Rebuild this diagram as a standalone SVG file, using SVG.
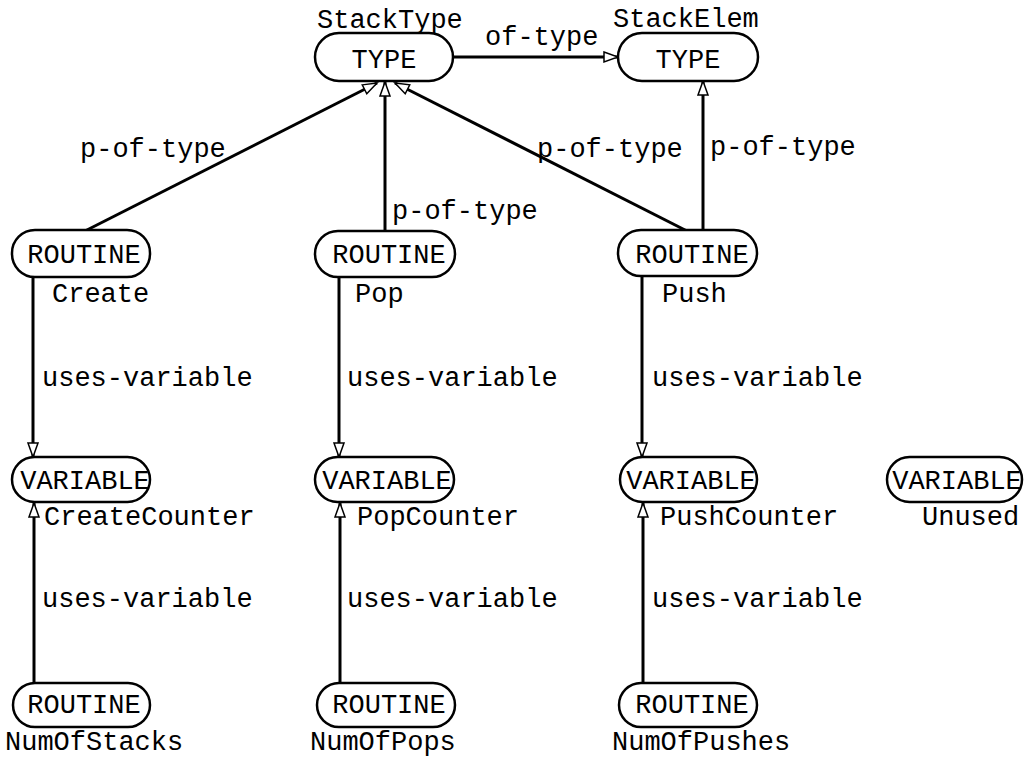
<svg xmlns="http://www.w3.org/2000/svg" width="1032" height="759" viewBox="0 0 1032 759">
<style>
text{font-family:"Liberation Mono","DejaVu Sans Mono",monospace;font-size:27px;fill:#000}
.n{fill:#fff;stroke:#000;stroke-width:2.5}
.e{stroke:#000;stroke-width:3;fill:none;marker-end:url(#ah)}
</style>
<defs>
<marker id="ah" markerUnits="userSpaceOnUse" markerWidth="18" markerHeight="14" viewBox="0 0 18 14" refX="16" refY="7" orient="auto">
<path d="M2,2 L16,7 L2,12 Z" fill="#fff" stroke="#000" stroke-width="1.5"/>
</marker>
</defs>
<rect width="1032" height="759" fill="#fff"/>
<g id="connectors">
<line class="e" x1="453" y1="57" x2="618" y2="57"/>
<line class="e" x1="85" y1="231" x2="377" y2="83"/>
<line class="e" x1="385" y1="231" x2="385" y2="82"/>
<line class="e" x1="687" y1="231" x2="395" y2="83"/>
<line class="e" x1="703" y1="230" x2="703" y2="81"/>
<line class="e" x1="33" y1="277" x2="33" y2="457"/>
<line class="e" x1="339" y1="277" x2="339" y2="457"/>
<line class="e" x1="642" y1="277" x2="642" y2="457"/>
<line class="e" x1="34" y1="683" x2="34" y2="503"/>
<line class="e" x1="340" y1="683" x2="340" y2="503"/>
<line class="e" x1="643" y1="683" x2="643" y2="503"/>
<text x="485" y="45">of-type</text>
<text x="80" y="157">p-of-type</text>
<text x="392" y="219">p-of-type</text>
<text x="537" y="157">p-of-type</text>
<text x="710" y="155">p-of-type</text>
<text x="42" y="386">uses-variable</text>
<text x="347" y="386">uses-variable</text>
<text x="652" y="386">uses-variable</text>
<text x="42" y="607">uses-variable</text>
<text x="347" y="607">uses-variable</text>
<text x="652" y="607">uses-variable</text>
</g>
<g id="StackType">
<rect class="n" x="315" y="33" width="138" height="48" rx="24"/>
<text x="384" y="68" text-anchor="middle">TYPE</text>
<text x="317" y="28">StackType</text>
</g>
<g id="StackElem">
<rect class="n" x="618" y="33" width="140" height="48" rx="24"/>
<text x="688" y="68" text-anchor="middle">TYPE</text>
<text x="613" y="27">StackElem</text>
</g>
<g id="Create">
<rect class="n" x="12" y="230" width="138" height="47" rx="23"/>
<text x="84" y="263" text-anchor="middle">ROUTINE</text>
<text x="52" y="302">Create</text>
</g>
<g id="Pop">
<rect class="n" x="315" y="231" width="140" height="46" rx="23"/>
<text x="389" y="263" text-anchor="middle">ROUTINE</text>
<text x="355" y="302">Pop</text>
</g>
<g id="Push">
<rect class="n" x="618" y="230" width="139" height="46" rx="23"/>
<text x="692" y="263" text-anchor="middle">ROUTINE</text>
<text x="662" y="302">Push</text>
</g>
<g id="CreateCounter">
<rect class="n" x="12" y="457" width="138" height="45" rx="22.5"/>
<text x="85" y="489" text-anchor="middle">VARIABLE</text>
<text x="44" y="525">CreateCounter</text>
</g>
<g id="PopCounter">
<rect class="n" x="315" y="457" width="139" height="45" rx="22.5"/>
<text x="387" y="489" text-anchor="middle">VARIABLE</text>
<text x="357" y="525">PopCounter</text>
</g>
<g id="PushCounter">
<rect class="n" x="620" y="457" width="137" height="45" rx="22.5"/>
<text x="691" y="489" text-anchor="middle">VARIABLE</text>
<text x="660" y="525">PushCounter</text>
</g>
<g id="Unused">
<rect class="n" x="887" y="457" width="135" height="45" rx="22.5"/>
<text x="957" y="489" text-anchor="middle">VARIABLE</text>
<text x="922" y="525">Unused</text>
</g>
<g id="NumOfStacks">
<rect class="n" x="13" y="683" width="137" height="44" rx="22"/>
<text x="84" y="713" text-anchor="middle">ROUTINE</text>
<text x="5" y="750">NumOfStacks</text>
</g>
<g id="NumOfPops">
<rect class="n" x="317" y="683" width="138" height="44" rx="22"/>
<text x="389" y="713" text-anchor="middle">ROUTINE</text>
<text x="310" y="750">NumOfPops</text>
</g>
<g id="NumOfPushes">
<rect class="n" x="619" y="683" width="138" height="44" rx="22"/>
<text x="692" y="713" text-anchor="middle">ROUTINE</text>
<text x="612" y="750">NumOfPushes</text>
</g>
</svg>
